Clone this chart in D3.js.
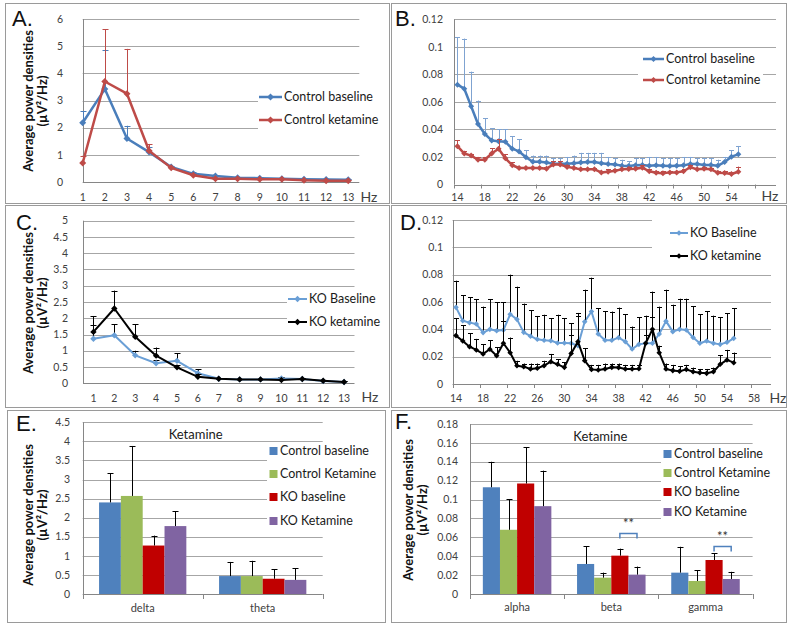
<!DOCTYPE html>
<html><head><meta charset="utf-8">
<script src="https://cdn.jsdelivr.net/npm/d3@7/dist/d3.min.js"></script>
<style>
body{margin:0;background:#fff}
svg{display:block}
text{font-family:Lato,'Open Sans',sans-serif}
</style>
</head><body>
<svg id="chart" width="792" height="628"></svg>
<script>
// ---------------- DATA ----------------
const hzLow = [1,2,3,4,5,6,7,8,9,10,11,12,13];
const hzLowTicks = [1,2,3,4,5,6,7,8,9,10,11,12,13];
const hzHigh = [14,15,16,17,18,19,20,21,22,23,24,25,26,27,28,29,30,31,32,33,34,35,36,37,38,39,40,41,42,43,44,45,46,47,48,49,50,51,52,53,54,55];
const hzHighTicksB = [14,18,22,26,30,34,38,42,46,50,54];
const hzHighTicksD = [14,18,22,26,30,34,38,42,46,50,54,58];
const hzHighTickMarks = [13.5,17.5,21.5,25.5,29.5,33.5,37.5,41.5,45.5,49.5,53.5,57.5];

// Panel A: control, delta/theta range
const ctrlBaseLow      = [2.18,3.42,1.6,1.1,0.55,0.3,0.22,0.16,0.14,0.12,0.1,0.09,0.08];
const ctrlBaseLowUpper = [2.6,4.85,2.07,1.3,0.6,0.35,0.26,0.19,0.17,0.15,0.12,0.11,0.1];
const ctrlKetLow       = [0.7,3.7,3.25,1.15,0.52,0.25,0.12,0.12,0.1,0.1,0.06,0.05,0.05];
const ctrlKetLowUpper  = [0.95,5.63,4.9,1.4,0.57,0.29,0.15,0.15,0.12,0.12,0.08,0.07,0.07];
const yTicksA = [0,1,2,3,4,5,6];

// Panel B: control, 14-55 Hz
const ctrlBaseHigh = [0.0725,0.0696,0.0568,0.044,0.0367,0.032,0.0314,0.031,0.026,0.024,0.0198,0.0165,0.0165,0.016,0.015,0.015,0.015,0.0155,0.016,0.0163,0.0163,0.0154,0.0149,0.0146,0.0137,0.0135,0.014,0.0142,0.0137,0.0139,0.0137,0.0134,0.0137,0.0139,0.0149,0.0149,0.0142,0.0142,0.0137,0.0163,0.0202,0.0219];
const ctrlBaseHighUpper = [0.107,0.106,0.082,0.061,0.048,0.041,0.040,0.040,0.035,0.033,0.025,0.021,0.021,0.021,0.019,0.019,0.020,0.021,0.023,0.023,0.023,0.023,0.020,0.019,0.018,0.017,0.019,0.019,0.020,0.020,0.019,0.019,0.019,0.020,0.020,0.019,0.019,0.019,0.018,0.020,0.025,0.028];
const ctrlKetHigh = [0.0278,0.0225,0.021,0.018,0.018,0.0225,0.026,0.019,0.014,0.012,0.012,0.012,0.012,0.0115,0.0145,0.0145,0.0128,0.012,0.011,0.011,0.011,0.0088,0.0093,0.010,0.011,0.0113,0.0115,0.0122,0.0096,0.0086,0.0081,0.0088,0.0088,0.0096,0.0125,0.011,0.0115,0.011,0.0086,0.0084,0.0076,0.0093];
const ctrlKetHighUpper = [0.032,0.024,0.022,0.020,0.020,0.0265,0.033,0.022,0.016,0.013,0.013,0.013,0.013,0.013,0.017,0.017,0.014,0.013,0.012,0.012,0.012,0.010,0.011,0.011,0.012,0.013,0.013,0.014,0.011,0.010,0.0095,0.010,0.010,0.011,0.014,0.012,0.013,0.012,0.010,0.0095,0.009,0.013];
const yTicksB = [0,0.02,0.04,0.06,0.08,0.1,0.12];

// Panel C: KO, delta/theta range
const koBaseLow      = [1.37,1.475,0.86,0.615,0.69,0.31,0.14,0.12,0.12,0.15,0.13,0.07,0.04];
const koBaseLowUpper = [1.8,1.82,1.0,0.72,0.93,0.44,0.17,0.14,0.14,0.18,0.15,0.09,0.06];
const koKetLow       = [1.58,2.3,1.43,0.85,0.49,0.2,0.14,0.12,0.12,0.1,0.13,0.08,0.04];
const koKetLowUpper  = [2.07,2.85,1.82,1.1,0.55,0.3,0.17,0.14,0.14,0.12,0.16,0.1,0.06];
const yTicksC = [0,0.5,1,1.5,2,2.5,3,3.5,4,4.5,5];

// Panel D: KO, 14-55 Hz
const koBaseHigh = [0.0561,0.0463,0.0449,0.0439,0.0376,0.040,0.039,0.0395,0.051,0.0473,0.0378,0.035,0.0327,0.032,0.0317,0.030,0.030,0.0298,0.028,0.0456,0.053,0.0366,0.032,0.032,0.0339,0.031,0.0256,0.029,0.0298,0.0298,0.0366,0.046,0.0383,0.040,0.0395,0.034,0.0298,0.0315,0.0298,0.029,0.0305,0.0334];
const koBaseHighUpper = [0.0756,0.0649,0.0634,0.0622,0.0566,0.0622,0.0598,0.0598,0.080,0.0712,0.0588,0.0539,0.0498,0.0507,0.048,0.0507,0.048,0.0444,0.052,0.069,0.0778,0.0554,0.0534,0.053,0.0559,0.051,0.042,0.049,0.050,0.0676,0.0566,0.069,0.058,0.0624,0.0624,0.057,0.051,0.0534,0.050,0.049,0.0517,0.0554];
const koKetHigh = [0.0354,0.0315,0.0273,0.0249,0.022,0.0254,0.0207,0.0298,0.0229,0.0134,0.0127,0.011,0.0115,0.0134,0.0163,0.0144,0.0122,0.0224,0.031,0.0171,0.0107,0.0102,0.011,0.0122,0.012,0.011,0.011,0.0112,0.0298,0.040,0.0229,0.011,0.0098,0.0093,0.0107,0.009,0.0083,0.0078,0.009,0.0144,0.0176,0.0156];
const koKetHighUpper = [0.048,0.043,0.037,0.033,0.029,0.032,0.027,0.046,0.034,0.017,0.015,0.015,0.015,0.017,0.022,0.018,0.016,0.036,0.050,0.026,0.014,0.014,0.015,0.015,0.015,0.014,0.014,0.014,0.036,0.049,0.028,0.015,0.014,0.013,0.014,0.012,0.011,0.011,0.012,0.021,0.025,0.023];
const yTicksD = [0,0.02,0.04,0.06,0.08,0.1,0.12];

// Panels E/F: bar charts
const barSeriesNames = ["Control baseline","Control Ketamine","KO baseline","KO Ketamine"];
const bandsE = ["delta","theta"];
const ctrlBaseE = [2.4,0.47], ctrlBaseEUpper = [3.16,0.84];
const ctrlKetE  = [2.57,0.47], ctrlKetEUpper = [3.88,0.87];
const koBaseE   = [1.27,0.40], koBaseEUpper = [1.53,0.65];
const koKetE    = [1.78,0.37], koKetEUpper = [2.17,0.67];
const yTicksE = [0,0.5,1,1.5,2,2.5,3,3.5,4,4.5];

const bandsF = ["alpha","beta","gamma"];
const ctrlBaseF = [0.113,0.0318,0.0226], ctrlBaseFUpper = [0.140,0.0508,0.050];
const ctrlKetF  = [0.068,0.0173,0.0138], ctrlKetFUpper = [0.1006,0.0226,0.025];
const koBaseF   = [0.117,0.0406,0.036], koBaseFUpper = [0.1556,0.048,0.043];
const koKetF    = [0.093,0.0205,0.0159], koKetFUpper = [0.1306,0.029,0.0235];
const yTicksF = [0,0.02,0.04,0.06,0.08,0.1,0.12,0.14,0.16,0.18];
const sigBands = ["beta","gamma"];
const sigLevels = [0.0642,0.0511];
const sigLabels = ["**","**"];

// ---------------- DRAWING ----------------
const svg = d3.select('#chart');
const GRID = '#a6a6a6', AXIS = '#868686', TICKTXT = '#404040';
const LEGFONT = '12.5px';
const crisp = v => Math.round(v) + 0.5;
const fmt = v => String(+v.toFixed(3));

function diamond(r){ return `M0,${-r}L${r},0L0,${r}L${-r},0Z`; }

function panelFrame(box, letter, lx, ly){
  svg.append('rect').attr('x',box[0]+0.5).attr('y',box[1]+0.5)
    .attr('width',box[2]-box[0]).attr('height',box[3]-box[1])
    .attr('fill','none').attr('stroke','#9a9a9a').attr('stroke-width',1);
  svg.append('text').attr('x',lx).attr('y',ly).text(letter)
    .style('font-family','"Liberation Sans",Arial,sans-serif').style('font-size','22px').attr('fill','#111');
}

function yTitle(x1, x2, cy){
  [["Average power densities",x1],["(\u00B5V\u00B2/Hz)",x2]].forEach(([t,x])=>{
    svg.append('text').attr('transform',`translate(${x},${cy}) rotate(-90)`)
      .attr('text-anchor','middle').attr('dy','0.35em')
      .style('font-size','13px').style('font-weight','bold').attr('fill','#111').text(t);
  });
}

function gridAndY(g, c, y){
  g.selectAll('line.grid').data(c.yTicks.filter(v=>v>0)).join('line')
    .attr('x1',c.plot.l).attr('x2',c.plot.r)
    .attr('y1',d=>crisp(y(d))).attr('y2',d=>crisp(y(d)))
    .attr('stroke',GRID).attr('stroke-width',1);
  g.append('line').attr('x1',c.plot.l).attr('x2',c.plot.r)
    .attr('y1',crisp(y(0))).attr('y2',crisp(y(0))).attr('stroke',AXIS);
  g.append('line').attr('x1',crisp(c.plot.l)).attr('x2',crisp(c.plot.l))
    .attr('y1',y(0)).attr('y2',y(c.yDomain[1])).attr('stroke',AXIS);
  g.selectAll('text.yt').data(c.yTicks).join('text')
    .attr('x',c.yLabelRight).attr('y',d=>y(d)).attr('dy','0.35em')
    .attr('text-anchor','end').style('font-size','10.5px').attr('fill',TICKTXT)
    .text(fmt);
}

function linePanel(c){
  const x = d3.scaleLinear().domain(c.xDomain).range([c.plot.l, c.plot.r]);
  const y = d3.scaleLinear().domain(c.yDomain).range([c.plot.b, c.plot.t]);
  const g = svg.append('g');
  gridAndY(g, c, y);
  if (c.tickMarks){
    g.selectAll('line.tm').data(c.tickMarks).join('line')
      .attr('x1',d=>crisp(x(d))).attr('x2',d=>crisp(x(d)))
      .attr('y1',y(0)).attr('y2',y(0)+4).attr('stroke',AXIS);
  }
  g.selectAll('text.xt').data(c.xTicks).join('text')
    .attr('x',d=>x(d)).attr('y',c.xLabelY).attr('dy','0.35em')
    .attr('text-anchor','middle').style('font-size','10.5px').attr('fill',TICKTXT).text(d=>d);
  g.append('text').attr('x',c.hz[0]).attr('y',c.hz[1]).attr('dy','0.35em')
    .attr('text-anchor','middle').style('font-size','14px').attr('fill',TICKTXT).text('Hz');

  c.series.forEach(s=>{
    const pts = s.x.map((xv,i)=>({x:xv,y:s.y[i],u:s.upper[i]}));
    g.append('path').datum(pts)
      .attr('d',d3.line().x(d=>x(d.x)).y(d=>y(d.y)))
      .attr('fill','none').attr('stroke',s.color).attr('stroke-width',s.width)
      .attr('stroke-linejoin','round');
    const eg = g.append('g').attr('stroke',s.errColor).attr('stroke-width',1);
    pts.forEach(p=>{
      const xx = crisp(x(p.x));
      eg.append('line').attr('x1',xx).attr('x2',xx).attr('y1',y(p.y)).attr('y2',y(p.u));
      eg.append('line').attr('x1',xx-c.cap).attr('x2',xx+c.cap).attr('y1',crisp(y(p.u))).attr('y2',crisp(y(p.u)));
    });
    g.selectAll(null).data(pts).join('path')
      .attr('transform',d=>`translate(${x(d.x)},${y(d.y)})`)
      .attr('d',diamond(s.marker)).attr('fill',s.color);
  });

  // legend
  const L = c.legend;
  g.append('rect').attr('x',L.bg[0]).attr('y',L.bg[1]).attr('width',L.bg[2]-L.bg[0]).attr('height',L.bg[3]-L.bg[1]).attr('fill','#fff');
  c.series.forEach((s,i)=>{
    const yy = L.ys[i];
    g.append('line').attr('x1',L.line[0]).attr('x2',L.line[1]).attr('y1',yy).attr('y2',yy)
      .attr('stroke',s.color).attr('stroke-width',s.width);
    g.append('path').attr('transform',`translate(${(L.line[0]+L.line[1])/2},${yy})`)
      .attr('d',diamond(s.marker)).attr('fill',s.color);
    g.append('text').attr('x',L.textX).attr('y',yy).attr('dy','0.35em')
      .style('font-size',LEGFONT).attr('fill','#1a1a1a').text(s.name);
  });
}

function barPanel(c){
  const x0 = d3.scaleBand().domain(c.bands).range([c.plot.l, c.plot.r]);
  const y = d3.scaleLinear().domain(c.yDomain).range([c.plot.b, c.plot.t]);
  const bw = x0.bandwidth()/5.5;
  const x1 = d3.scaleBand().domain(d3.range(c.series.length)).range([0, bw*c.series.length]);
  const off = (x0.bandwidth() - bw*c.series.length)/2;
  const g = svg.append('g');
  gridAndY(g, c, y);
  const bounds = c.bands.map(b=>x0(b)).concat([c.plot.r]);
  g.selectAll('line.tm').data(bounds).join('line')
    .attr('x1',d=>crisp(d)).attr('x2',d=>crisp(d)).attr('y1',y(0)).attr('y2',y(0)+5).attr('stroke',AXIS);
  g.selectAll('text.xt').data(c.bands).join('text')
    .attr('x',d=>x0(d)+x0.bandwidth()/2).attr('y',c.xLabelY).attr('dy','0.35em')
    .attr('text-anchor','middle').style('font-size','11px').attr('fill',TICKTXT).text(d=>d);
  c.series.forEach((s,i)=>{
    c.bands.forEach((b,j)=>{
      const bx = x0(b)+off+x1(i);
      g.append('rect').attr('x',bx).attr('y',y(s.v[j])).attr('width',bw).attr('height',y(0)-y(s.v[j])).attr('fill',s.color);
    });
  });
  c.series.forEach((s,i)=>{
    c.bands.forEach((b,j)=>{
      const cx = crisp(x0(b)+off+x1(i)+bw/2);
      g.append('line').attr('x1',cx).attr('x2',cx).attr('y1',y(s.v[j])).attr('y2',y(s.u[j])).attr('stroke','#000');
      g.append('line').attr('x1',cx-3).attr('x2',cx+3).attr('y1',crisp(y(s.u[j]))).attr('y2',crisp(y(s.u[j]))).attr('stroke','#000');
    });
  });
  g.append('text').attr('x',(c.plot.l+c.plot.r)/2+c.titleDx).attr('y',c.titleY).attr('dy','0.35em')
    .attr('text-anchor','middle').style('font-size','13px').attr('fill','#1a1a1a').text('Ketamine');
  if (c.sig){
    c.sig.bands.forEach((b,k)=>{
      const xa = x0(b)+off+x1(2)+bw/2, xb = x0(b)+off+x1(3)+bw/2;
      const yy = crisp(y(c.sig.levels[k]));
      g.append('path').attr('d',`M${xa},${yy+5}V${yy}H${xb}V${yy+5}`)
        .attr('fill','none').attr('stroke','#4f81bd').attr('stroke-width',1.5);
      g.append('text').attr('x',(xa+xb)/2).attr('y',yy-10).attr('dy','0.35em').attr('text-anchor','middle')
        .style('font-size','13px').attr('fill','#333').text(c.sig.labels[k]);
    });
  }
  const L = c.legend;
  g.append('rect').attr('x',L.bg[0]).attr('y',L.bg[1]).attr('width',L.bg[2]-L.bg[0]).attr('height',L.bg[3]-L.bg[1]).attr('fill','#fff');
  c.series.forEach((s,i)=>{
    const yy = L.ys[i];
    g.append('rect').attr('x',L.sqX).attr('y',yy-4).attr('width',8).attr('height',8).attr('fill',s.color);
    g.append('text').attr('x',L.textX).attr('y',yy).attr('dy','0.35em')
      .style('font-size',LEGFONT).attr('fill','#1a1a1a').text(s.name);
  });
}

const BLUE='#4a7ebb', RED='#be4b48', LBLUE='#6a9fd6', BLACK='#000';

// Panel A
panelFrame([5,3,389,203],'A.',12,26);
yTitle(28,42,101);
linePanel({
  plot:{l:82.7,r:359.3,t:19,b:182}, xDomain:[1,13.5], yDomain:[0,6], yTicks:yTicksA, yLabelRight:63,
  xTicks:hzLowTicks, xLabelY:197, hz:[369,197], cap:3,
  series:[
    {name:'Control baseline', x:hzLow, y:ctrlBaseLow, upper:ctrlBaseLowUpper, color:BLUE, errColor:BLUE, width:2.5, marker:3.5},
    {name:'Control ketamine', x:hzLow, y:ctrlKetLow, upper:ctrlKetLowUpper, color:RED, errColor:RED, width:2.5, marker:3.5}
  ],
  legend:{bg:[258,87,376,134], line:[259,282], textX:284, ys:[97,120]}
});

// Panel B
panelFrame([391,3,786,203],'B.',395,26);
linePanel({
  plot:{l:454,r:776,t:19.3,b:184.5}, xDomain:[13.5,60.5], yDomain:[0,0.12], yTicks:yTicksB, yLabelRight:443,
  xTicks:hzHighTicksB, tickMarks:hzHighTickMarks, xLabelY:197, hz:[770,196], cap:2.5,
  series:[
    {name:'Control baseline', x:hzHigh, y:ctrlBaseHigh, upper:ctrlBaseHighUpper, color:BLUE, errColor:'#7fa3d1', width:2.5, marker:3},
    {name:'Control ketamine', x:hzHigh, y:ctrlKetHigh, upper:ctrlKetHighUpper, color:RED, errColor:RED, width:2.5, marker:3}
  ],
  legend:{bg:[638,50,763,92], line:[643,664], textX:666, ys:[59,80]}
});

// Panel C
panelFrame([5,205,389,407],'C.',16,230);
yTitle(28,42,303);
linePanel({
  plot:{l:83,r:354.5,t:220.7,b:383.3}, xDomain:[0.5,13.5], yDomain:[0,5], yTicks:yTicksC, yLabelRight:68,
  xTicks:hzLowTicks, xLabelY:398, hz:[370,397], cap:3,
  series:[
    {name:'KO Baseline', x:hzLow, y:koBaseLow, upper:koBaseLowUpper, color:LBLUE, errColor:'#000', width:2, marker:3.2},
    {name:'KO ketamine', x:hzLow, y:koKetLow, upper:koKetLowUpper, color:BLACK, errColor:'#000', width:2, marker:3.2}
  ],
  legend:{bg:[287,290,380,331], line:[288,307], textX:309, ys:[299,322]}
});

// Panel D
panelFrame([391,205,786,407],'D.',400,230);
linePanel({
  plot:{l:452.6,r:771,t:220,b:384}, xDomain:[13.5,60.5], yDomain:[0,0.12], yTicks:yTicksD, yLabelRight:443,
  xTicks:hzHighTicksD, tickMarks:hzHighTickMarks, xLabelY:398, hz:[778,398], cap:2.5,
  series:[
    {name:'KO Baseline', x:hzHigh, y:koBaseHigh, upper:koBaseHighUpper, color:LBLUE, errColor:'#000', width:2, marker:2.8},
    {name:'KO ketamine', x:hzHigh, y:koKetHigh, upper:koKetHighUpper, color:BLACK, errColor:'#000', width:2, marker:2.8}
  ],
  legend:{bg:[652,214,772,266], line:[670,688], textX:690, ys:[233,256]}
});

// Panel E
panelFrame([7,410,385,622],'E.',16,431);
yTitle(28,42,515);
barPanel({
  plot:{l:82.7,r:322.7,t:422.3,b:594}, bands:bandsE, yDomain:[0,4.5], yTicks:yTicksE, yLabelRight:70,
  xLabelY:608, titleDx:-7, titleY:434,
  series:[
    {name:barSeriesNames[0], v:ctrlBaseE, u:ctrlBaseEUpper, color:'#4f81bd'},
    {name:barSeriesNames[1], v:ctrlKetE, u:ctrlKetEUpper, color:'#9bbb59'},
    {name:barSeriesNames[2], v:koBaseE, u:koBaseEUpper, color:'#c00000'},
    {name:barSeriesNames[3], v:koKetE, u:koKetEUpper, color:'#8064a2'}
  ],
  legend:{bg:[267,444,330,531], sqX:269.5, textX:280, ys:[451,474,497,521]}
});

// Panel F
panelFrame([391,410,786,622],'F.',395,429);
yTitle(408,422,510);
barPanel({
  plot:{l:470,r:752.6,t:424,b:594}, bands:bandsF, yDomain:[0,0.18], yTicks:yTicksF, yLabelRight:458,
  xLabelY:607, titleDx:-11, titleY:436,
  series:[
    {name:barSeriesNames[0], v:ctrlBaseF, u:ctrlBaseFUpper, color:'#4f81bd'},
    {name:barSeriesNames[1], v:ctrlKetF, u:ctrlKetFUpper, color:'#9bbb59'},
    {name:barSeriesNames[2], v:koBaseF, u:koBaseFUpper, color:'#c00000'},
    {name:barSeriesNames[3], v:koKetF, u:koKetFUpper, color:'#8064a2'}
  ],
  sig:{bands:sigBands, levels:sigLevels, labels:sigLabels},
  legend:{bg:[661,446,760,528], sqX:663.5, textX:674, ys:[454,473,492,512]}
});
</script>
</body></html>
